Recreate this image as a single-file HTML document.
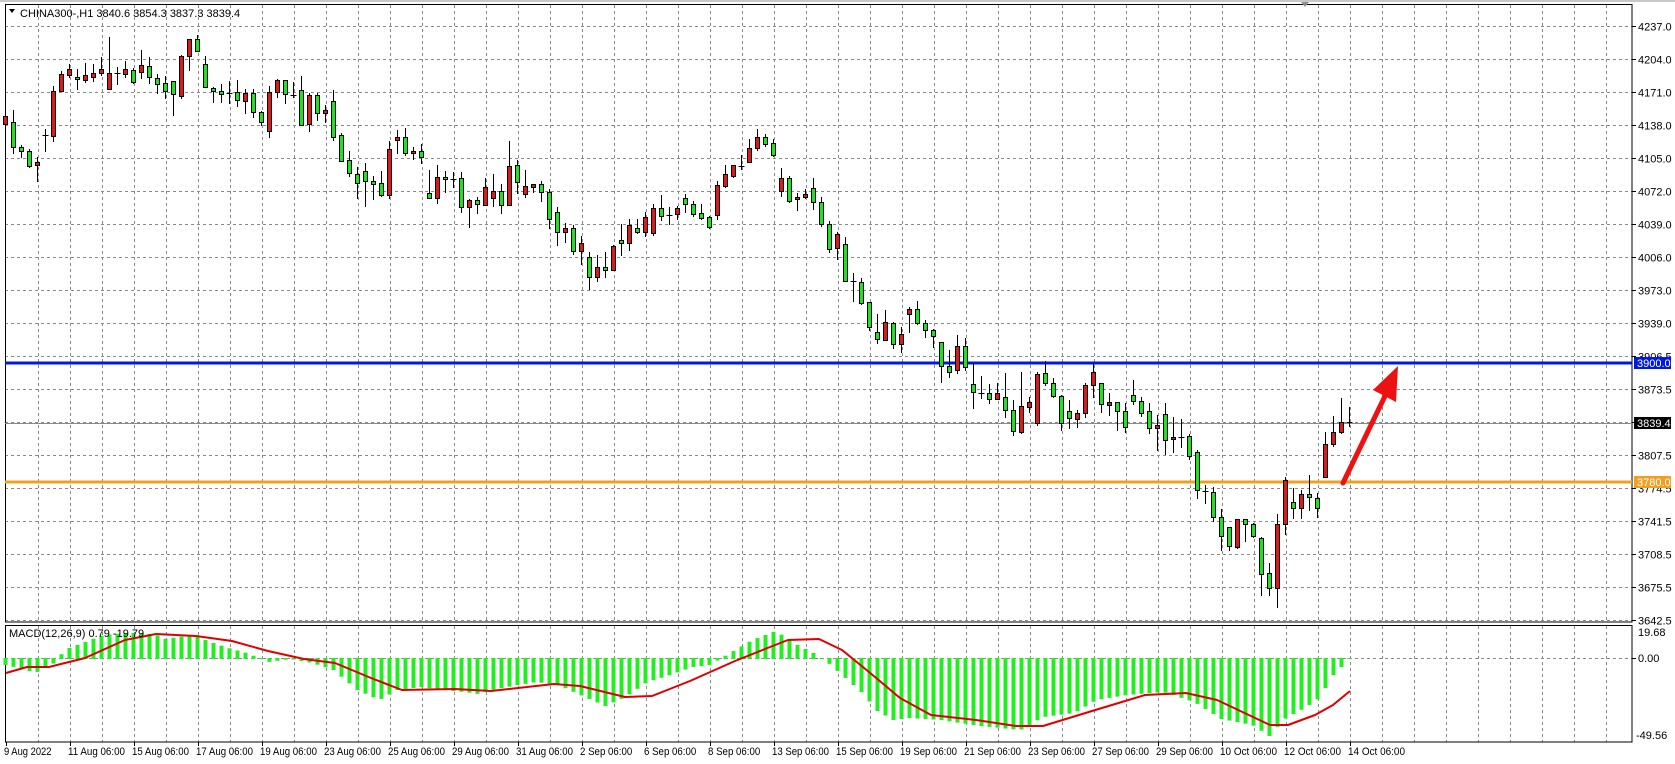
<!DOCTYPE html>
<html><head><meta charset="utf-8">
<style>
html,body{margin:0;padding:0;background:#fff;}
svg{display:block;font-family:"Liberation Sans",sans-serif;}
</style></head>
<body>
<svg id="c" width="1675" height="764" xmlns="http://www.w3.org/2000/svg"></svg>
<script>
var NS="http://www.w3.org/2000/svg";
var svg=document.getElementById('c');
function el(t,a,txt){var e=document.createElementNS(NS,t);for(var k in a)e.setAttribute(k,a[k]);if(txt!==undefined)e.textContent=txt;svg.appendChild(e);return e;}
el('rect',{x:0,y:0,width:1675,height:764,fill:'#fff'});
el('rect',{x:0,y:0,width:1675,height:2,fill:'#c8c8c8'});
for(var k=1;k<=50;k++){var x=6+32*k+0.5;
 el('line',{x1:x,y1:5,x2:x,y2:622,stroke:'#8a8a8a','stroke-width':1,'stroke-dasharray':'3,3'});
 el('line',{x1:x,y1:626,x2:x,y2:742,stroke:'#8a8a8a','stroke-width':1,'stroke-dasharray':'3,3'});}
var labs=['4237.0','4204.0','4171.0','4138.0','4105.0','4072.0','4039.0','4006.0','3973.0','3939.0','3906.5','3873.5','3840.5','3807.5','3774.5','3741.5','3708.5','3675.5','3642.5'];
for(var k=0;k<19;k++){var y=26+33*k+0.5;
 el('line',{x1:5,y1:y,x2:1632,y2:y,stroke:'#8a8a8a','stroke-width':1,'stroke-dasharray':'3,3'});
 el('line',{x1:1632,y1:y,x2:1636,y2:y,stroke:'#000'});
 if(k!=12) el('text',{x:1638,y:y+4,'font-size':'11',fill:'#000'},labs[k]);}
el('line',{x1:5,y1:658.5,x2:1632,y2:658.5,stroke:'#8a8a8a','stroke-dasharray':'3,3'});
el('rect',{x:5.5,y:4.5,width:1626.5,height:617.5,fill:'none',stroke:'#000','stroke-width':1});
el('rect',{x:5.5,y:625.5,width:1626.5,height:116.5,fill:'none',stroke:'#000','stroke-width':1});
el('line',{x1:5,y1:423.5,x2:1632,y2:423.5,stroke:'#8a8a8a','stroke-width':1});
el('line',{x1:5,y1:363,x2:1632,y2:363,stroke:'#0018e0','stroke-width':3});
el('line',{x1:5,y1:482,x2:1632,y2:482,stroke:'#f0a020','stroke-width':3});
var D="0 r 116 124 111 124|1 g 122 147 110 153|2 g 147 151 145 157|3 g 151 166 149 167|4 r 162 165 157 181|5 d 135 135 129 151|6 r 91 136 86 141|7 r 74 91 71 91|8 r 69 75 64 77|9 g 77 79 69 89|10 r 75 80 63 82|11 r 73 77 64 81|12 r 69 73 57 75|13 r 73 89 37 89|14 d 73 73 67 84|15 r 69 74 61 77|16 g 70 82 68 83|17 r 65 72 50 78|18 g 66 77 57 83|19 g 78 84 74 93|20 g 83 91 76 98|21 g 81 94 81 115|22 r 56 96 55 98|23 r 39 56 39 70|24 g 39 51 35 51|25 g 64 87 56 87|26 g 88 91 87 102|27 g 91 94 84 102|28 d 93 93 81 103|29 g 92 100 80 106|30 r 93 101 89 113|31 g 93 112 89 117|32 g 112 122 111 125|33 r 92 131 86 137|34 r 80 92 79 97|35 g 80 94 80 103|36 d 95 95 82 97|37 g 90 125 76 125|38 r 95 124 93 131|39 g 95 113 93 120|40 r 110 113 105 122|41 g 101 137 90 140|42 g 135 161 133 161|43 g 160 173 151 176|44 g 174 183 167 198|45 g 171 181 163 206|46 g 181 184 176 199|47 g 183 195 171 196|48 r 149 195 141 198|49 r 137 140 130 153|50 g 137 153 128 155|51 r 151 153 147 159|52 g 151 157 144 163|53 g 193 198 170 198|54 r 177 198 165 203|55 g 177 179 171 192|56 d 179 179 172 187|57 g 178 207 172 212|58 r 200 207 199 227|59 g 200 204 197 213|60 r 187 205 178 205|61 r 191 198 174 206|62 g 191 205 184 213|63 r 166 205 141 205|64 g 165 182 160 193|65 r 186 194 170 197|66 r 184 187 184 192|67 g 184 192 181 201|68 g 192 219 189 228|69 g 212 232 207 245|70 r 228 232 223 242|71 g 228 251 225 254|72 r 243 251 236 264|73 g 257 277 252 289|74 r 267 277 255 281|75 g 267 270 252 277|76 r 246 270 245 270|77 g 240 243 224 255|78 r 225 243 219 250|79 g 228 232 219 233|80 r 217 232 212 236|81 r 208 233 204 235|82 g 208 216 195 220|83 d 215 215 207 224|84 r 208 214 206 219|85 g 198 204 194 212|86 g 204 214 201 216|87 g 213 218 204 219|88 g 217 227 216 228|89 r 185 215 181 219|90 r 174 186 165 187|91 r 165 176 165 177|92 d 166 166 155 169|93 r 148 162 139 162|94 r 137 148 129 150|95 g 137 144 134 146|96 g 143 155 139 156|97 r 178 191 168 196|98 g 178 201 176 202|99 r 197 199 193 210|100 r 194 197 189 198|101 g 188 202 178 209|102 g 202 224 197 226|103 g 224 249 221 252|104 r 234 248 232 259|105 g 244 281 237 281|106 d 281 281 273 301|107 g 282 303 278 304|108 g 302 327 302 330|109 g 332 339 314 343|110 r 322 340 310 340|111 g 323 344 322 348|112 r 334 344 327 352|113 r 309 314 307 332|114 g 309 323 301 324|115 g 323 330 320 337|116 g 330 336 329 347|117 g 342 366 342 382|118 g 366 372 350 377|119 r 346 370 335 373|120 g 346 367 338 370|121 g 384 392 363 408|122 d 393 393 376 398|123 g 393 399 384 403|124 r 393 399 383 399|125 g 397 410 373 417|126 g 410 431 400 435|127 r 406 432 372 433|128 r 402 407 397 412|129 r 374 423 372 425|130 g 373 383 361 385|131 g 383 396 378 397|132 g 396 423 395 430|133 g 411 418 400 428|134 r 413 419 410 427|135 r 385 413 383 417|136 r 372 385 363 397|137 g 383 404 383 412|138 r 402 405 393 415|139 g 402 411 402 430|140 g 411 427 403 432|141 g 395 401 380 404|142 g 401 413 397 416|143 g 411 428 403 433|144 r 425 428 415 450|145 g 414 440 403 454|146 r 437 439 417 452|147 d 437 437 419 447|148 g 436 456 434 459|149 g 452 490 450 498|150 d 491 491 485 503|151 g 492 517 487 521|152 g 517 536 509 550|153 g 527 546 527 550|154 r 519 547 519 548|155 g 519 524 519 541|156 g 524 536 523 537|157 g 538 574 537 595|158 g 573 588 563 595|159 r 524 588 514 607|160 r 480 524 477 534|161 g 502 508 488 518|162 r 494 508 490 518|163 g 494 497 475 510|164 g 498 508 493 517|165 r 444 477 432 477|166 r 432 444 416 446|167 r 422 432 398 433|168 d 422 422 407 426";
D.split('|').forEach(function(s){var p=s.split(' ');var i=+p[0],t=p[1],bt=+p[2],bb=+p[3],wt=+p[4],wb=+p[5];
 var cx=5+8*i+0.5;
 el('line',{x1:cx,y1:wt,x2:cx,y2:wb+1,stroke:'#000','stroke-width':1});
 if(t=='d'){el('line',{x1:cx-3,y1:bt+0.5,x2:cx+3,y2:bt+0.5,stroke:'#000','stroke-width':1});}
 else{var h=Math.max(bb-bt,2);el('rect',{x:cx-2,y:bt+0.5,width:4,height:h,fill:t=='r'?'#dd1a1a':'#22e022',stroke:'#000','stroke-width':1});}
});
var H=[[4,665],[7,665],[27,671],[38,672],[54,663],[60,655],[69,648],[85,642],[103,635],[125,633],[143,633],[156,635],[165,639],[192,635],[210,642],[228,648],[246,653],[259,658],[268,662],[290,659],[312,663],[333,670],[357,690],[379,700],[397,690],[420,687],[442,690],[464,692],[478,694],[491,690],[518,685],[536,682],[558,685],[580,695],[605,706],[625,697],[647,682],[670,675],[692,667],[710,665],[721,658],[735,650],[752,640],[773,632],[782,635],[797,645],[813,653],[828,663],[844,677],[862,693],[877,711],[893,720],[909,718],[940,720],[980,726],[1020,730],[1043,717],[1074,713],[1096,700],[1127,695],[1163,692],[1194,702],[1221,719],[1252,725],[1269,736],[1284,719],[1306,707],[1319,698],[1333,675],[1343,665],[1350,657]];
function interp(A,x){for(var j=0;j<A.length-1;j++){if(x>=A[j][0]&&x<=A[j+1][0]){var f=(x-A[j][0])/(A[j+1][0]-A[j][0]);return A[j][1]+f*(A[j+1][1]-A[j][1]);}}return A[A.length-1][1];}
for(var i=0;i<169;i++){var cx=5+8*i;var y=interp(H,cx);var t=Math.min(y,658),b=Math.max(y,659);
 el('rect',{x:cx-1.5,y:t,width:4,height:Math.max(b-t,1),fill:'#22ee22'});}
var S=[[6,673],[27,667],[49,667],[85,658],[125,640],[156,634],[196,636],[232,641],[268,651],[304,659],[335,663],[371,678],[402,690],[455,689],[491,691],[554,684],[580,686],[625,697],[652,696],[690,681],[735,661],[770,647],[788,640],[819,639],[842,650],[869,672],[900,698],[931,715],[976,720],[1016,726],[1043,726],[1092,711],[1145,695],[1186,693],[1217,700],[1270,725],[1288,725],[1315,715],[1333,705],[1350,691]];
el('polyline',{points:S.map(function(p){return p.join(',')}).join(' '),fill:'none',stroke:'#dd0000','stroke-width':2,'stroke-linejoin':'round'});
el('text',{x:1638,y:636,'font-size':'11'},'19.68');
el('line',{x1:1632,y1:658.5,x2:1636,y2:658.5,stroke:'#000'});
el('text',{x:1638,y:662,'font-size':'11'},'0.00');
el('text',{x:1636,y:739,'font-size':'11'},'-49.56');
el('text',{x:9,y:637,'font-size':'11'},'MACD(12,26,9) 0.79 -19.79');
el('rect',{x:1634,y:357,width:37,height:12,fill:'#0018e0'});
el('text',{x:1637,y:367,'font-size':'11',fill:'#fff'},'3900.0');
el('rect',{x:1634,y:417,width:37,height:12,fill:'#000'});
el('text',{x:1637,y:427,'font-size':'11',fill:'#fff'},'3839.4');
el('rect',{x:1634,y:476,width:37,height:12,fill:'#f0a020'});
el('text',{x:1637,y:486,'font-size':'11',fill:'#fff'},'3780.0');
el('polygon',{points:'9,9 15,9 12,13',fill:'#000'});
el('text',{x:20,y:17,'font-size':'11'},'CHINA300-,H1  3840.6 3854.3 3837.3 3839.4');
el('polygon',{points:'1301,2 1309,2 1305,7',fill:'#909090'});
var T=['9 Aug 2022','11 Aug 06:00','15 Aug 06:00','17 Aug 06:00','19 Aug 06:00','23 Aug 06:00','25 Aug 06:00','29 Aug 06:00','31 Aug 06:00','2 Sep 06:00','6 Sep 06:00','8 Sep 06:00','13 Sep 06:00','15 Sep 06:00','19 Sep 06:00','21 Sep 06:00','23 Sep 06:00','27 Sep 06:00','29 Sep 06:00','10 Oct 06:00','12 Oct 06:00','14 Oct 06:00'];
for(var k=0;k<T.length;k++){var x=4+64*k;
 el('line',{x1:x+2.5,y1:742,x2:x+2.5,y2:746,stroke:'#000'});
 el('text',{x:x,y:755,'font-size':'11',textLength:(T[k].length*4.75).toFixed(1),lengthAdjust:'spacingAndGlyphs'},T[k]);}
el('line',{x1:1343,y1:483,x2:1386,y2:394,stroke:'#ee1111','stroke-width':5,'stroke-linecap':'round'});
el('polygon',{points:'1398,366 1373,390 1396,402',fill:'#ee1111'});
</script>
</body></html>
